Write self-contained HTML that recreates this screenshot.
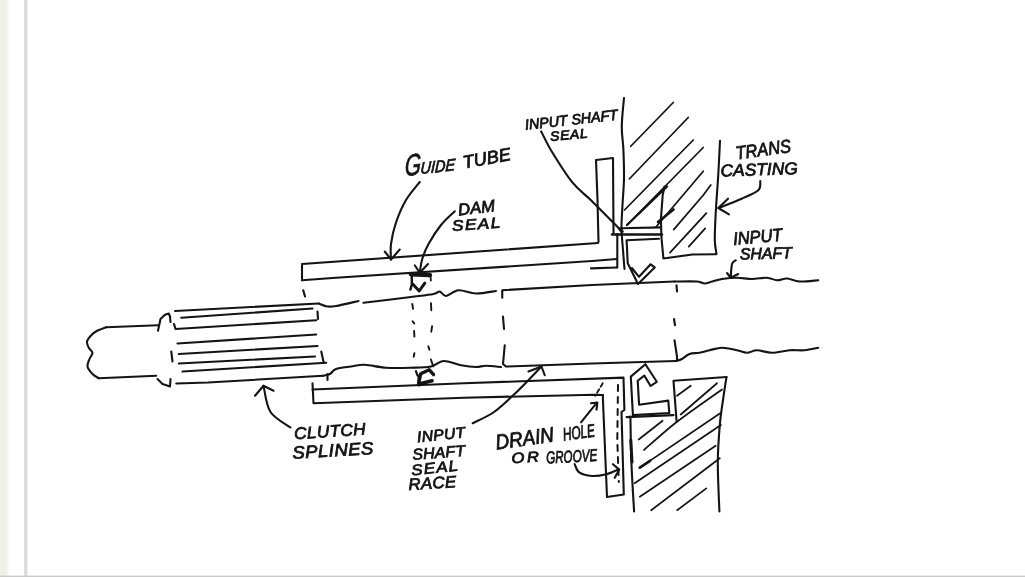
<!DOCTYPE html>
<html lang="en"><head><meta charset="utf-8"><title>Input shaft seal sketch</title>
<style>
html,body{margin:0;padding:0;background:#fff;}
body{width:1025px;height:577px;overflow:hidden;position:relative;}
svg{position:absolute;left:0;top:0;display:block;}
text{font-family:"Liberation Sans","DejaVu Sans",sans-serif;font-style:italic;fill:#111;stroke:#111;stroke-width:0.8px;}
.l{fill:none;stroke:#141414;stroke-linecap:round;stroke-linejoin:round;}
</style></head><body>
<svg width="1025" height="577" viewBox="0 0 1025 577">
<defs><linearGradient id="g" x1="0" x2="1" y1="0" y2="0"><stop offset="0" stop-color="#e9f0e5"/><stop offset="0.65" stop-color="#edf2ea"/><stop offset="1" stop-color="#fefefc"/></linearGradient></defs>
<rect x="0" y="0" width="1025" height="577" fill="#ffffff"/>
<rect x="0" y="0" width="9.5" height="577" fill="url(#g)"/>
<rect x="24" y="0" width="3.5" height="577" fill="#dcdcdc"/>
<rect x="0" y="575.6" width="1025" height="1.4" fill="#c9c9c9"/>
<g class="l">
<path d="M158,325.25 L106.25,327.25" stroke-width="2.1"/>
<path d="M106.25,327.25 C104.54,327.96 98.5,330.17 96,331.5 C93.5,332.83 92.75,333.58 91.25,335.25 C89.75,336.92 87.42,339.42 87,341.5 C86.58,343.58 87.83,345.88 88.75,347.75 C89.67,349.62 92.38,350.88 92.5,352.75 C92.62,354.62 90.33,356.71 89.5,359 C88.67,361.29 87,364 87.5,366.5 C88,369 90.62,372.04 92.5,374 C94.38,375.96 97.71,377.54 98.75,378.25" stroke-width="2.1"/>
<path d="M98.75,378.25 L156.25,375.75" stroke-width="2.1"/>
<path d="M158,330.75 L160.5,319 L165,314.75 L168.75,313.5 L170,316.5 L170.5,322" stroke-width="2.1"/>
<path d="M157.5,379 L162.5,384 L170,386.5 L170.5,379" stroke-width="2.1"/>
<path d="M171.25,351.5 L172.5,361.5" stroke-width="2.1"/>
<path d="M175,311 L318.75,303.5" stroke-width="2.1"/>
<path d="M181.25,317.75 L312.5,308.5" stroke-width="2.1"/>
<path d="M174,324 L175.5,329 L316.25,320.25" stroke-width="2.1"/>
<path d="M177.5,343.5 L316.25,334.5" stroke-width="2.1"/>
<path d="M178.75,354 L317.5,346" stroke-width="2.1"/>
<path d="M178.75,363.5 L315,356.5" stroke-width="2.1"/>
<path d="M182.5,371.5 L326.25,362.75" stroke-width="2.1"/>
<path d="M176.25,383.5 L208,382.5 L323,375.75" stroke-width="2.1"/>
<path d="M323,375.75 C324.17,375.46 327.83,375.12 330,374 C332.17,372.88 332.5,370.25 336,369 C339.5,367.75 346.21,367.21 351,366.5 C355.79,365.79 358.92,364.54 364.75,364.75 C370.58,364.96 378.29,367.25 386,367.75 C393.71,368.25 403.5,367.96 411,367.75 C418.5,367.54 425.58,367.62 431,366.5 C436.42,365.38 438.5,361.21 443.5,361 C448.5,360.79 455.58,364.25 461,365.25 C466.42,366.25 471.83,366.92 476,367 C480.17,367.08 481.83,365.75 486,365.75 C490.17,365.75 498.5,366.79 501,367" stroke-width="2.1"/>
<path d="M317.5,311.5 L318,319" stroke-width="2.1"/>
<path d="M321.25,351.5 L323.75,362.75" stroke-width="2.1"/>
<path d="M327.5,374 L327.5,380" stroke-width="2.1"/>
<path d="M318.75,303.5 C320.21,304 324.62,306.08 327.5,306.5 C330.38,306.92 330.83,306.92 336,306 C341.17,305.08 354.75,301.83 358.5,301" stroke-width="2.1"/>
<path d="M363.5,302.75 C371.42,301.79 399.33,298.46 411,297 C422.67,295.54 428.71,294.92 433.5,294 C438.29,293.08 437.67,291.17 439.75,291.5 C441.83,291.83 442.88,296.21 446,296 C449.12,295.79 453.5,290.67 458.5,290.25 C463.5,289.83 469.75,293.38 476,293.5 C482.25,293.62 492.67,291.42 496,291" stroke-width="2.1"/>
<path d="M302,280.25 L302,264 L598,243" stroke-width="2.1"/>
<path d="M302,280.25 L336,277.75 L592,261 L617,259" stroke-width="2.1"/>
<path d="M303.25,290.25 L305,296.5" stroke-width="2.1"/>
<path d="M598.5,242 L597.5,200 L596,160 L613,158 L613.5,234" stroke-width="2.1"/>
<path d="M617.3,234 L617.3,267.5" stroke-width="2.1"/>
<path d="M591,268.4 L617,267.5" stroke-width="2.1"/>
<path d="M410.8,274.3 L430,275.2" stroke-width="4.2"/>
<path d="M411.8,276.8 L411.8,284.6 L410.4,289.6" stroke-width="2.4"/>
<path d="M430.5,276 L430.9,280.7" stroke-width="1.8"/>
<path d="M412.7,284 L419.2,291 L424.8,283.2" stroke-width="3"/>
<path d="M412.3,304 L413,308.9" stroke-width="1.9"/>
<path d="M412.6,321.3 L414.2,323.4" stroke-width="1.9"/>
<path d="M414.1,331 L414.4,336.6" stroke-width="1.9"/>
<path d="M414.4,353.2 L413.7,356.7" stroke-width="1.9"/>
<path d="M431,303.3 L431.3,310.2" stroke-width="1.9"/>
<path d="M432.1,326.2 L431.3,331.7" stroke-width="1.9"/>
<path d="M428.3,346.3 L429.4,349.7" stroke-width="1.9"/>
<path d="M415.9,371.2 L417.6,375.7" stroke-width="2.2"/>
<path d="M418.6,383.5 L420.7,373.8 L429.3,369.8 L433.6,374.6" stroke-width="3.4"/>
<path d="M418.8,383.9 L432,380.8" stroke-width="3.6"/>
<path d="M419,376 L419,385" stroke-width="3"/>
<path d="M430.9,359.4 L433.2,366.4" stroke-width="1.8"/>
<path d="M502.25,290.25 L592,285 L674.5,281.5" stroke-width="2.1"/>
<path d="M674.5,281.5 C678.25,281.5 692,281.17 697,281.5 C702,281.83 702,283.5 704.5,283.5 C707,283.5 709.08,282.25 712,281.5 C714.92,280.75 717.83,279.62 722,279 C726.17,278.38 732,277.75 737,277.75 C742,277.75 747,279 752,279 C757,279 762.83,277.54 767,277.75 C771.17,277.96 773.67,280.12 777,280.25 C780.33,280.38 783.25,278.29 787,278.5 C790.75,278.71 794.29,281.21 799.5,281.5 C804.71,281.79 815.12,280.46 818.25,280.25" stroke-width="2.1"/>
<path d="M502.25,291.5 L502.25,297.75" stroke-width="2.1"/>
<path d="M503,316.5 L504,329" stroke-width="2.1"/>
<path d="M504.75,345.25 L503,364 L506,366.5 L592,363.5 L675.75,361" stroke-width="2.1"/>
<path d="M675.75,361 C676.79,360.67 679.71,360.17 682,359 C684.29,357.83 686.58,355.04 689.5,354 C692.42,352.96 696.17,353.38 699.5,352.75 C702.83,352.12 705.75,351.08 709.5,350.25 C713.25,349.42 717.42,347.75 722,347.75 C726.58,347.75 732.83,349.42 737,350.25 C741.17,351.08 743.67,352.75 747,352.75 C750.33,352.75 752.83,350.25 757,350.25 C761.17,350.25 766.58,352.75 772,352.75 C777.42,352.75 784.08,350.67 789.5,350.25 C794.92,349.83 799.71,350.67 804.5,350.25 C809.29,349.83 815.96,348.17 818.25,347.75" stroke-width="2.1"/>
<path d="M676.5,285.25 L677,291.5" stroke-width="2.1"/>
<path d="M674,319 L675,325.25" stroke-width="2.1"/>
<path d="M674.5,340.25 L677,356.5 L677,361" stroke-width="2.1"/>
<path d="M624,98 C623.63,102.67 621.9,117.33 621.8,126 C621.7,134.67 623.03,141.33 623.4,150 C623.77,158.67 624.15,168.83 624,178 C623.85,187.17 622.92,196.67 622.5,205 C622.08,213.33 621.42,220.5 621.5,228 C621.58,235.5 622.5,243.17 623,250 C623.5,256.83 624.25,265.83 624.5,269" stroke-width="2.1"/>
<path d="M621.5,228.3 L661,227.4" stroke-width="2.1"/>
<path d="M612,234.5 L662,234.5" stroke-width="2.4"/>
<path d="M659,238.7 L626.6,240.3 L627.7,263.2 L638,284 L654.7,267.4 L650.6,264.3 L639,276.8 L631.9,268" stroke-width="2.1"/>
<path d="M664.5,186.5 L662.7,195 L660.9,219.3 L661.5,238 L663.4,258.5 L692.5,254.5 L716.2,254.3" stroke-width="2.1"/>
<path d="M720,140.8 C719.71,146.5 718.96,163.05 718.25,175 C717.54,186.95 716.33,201.67 715.75,212.5 C715.17,223.33 714.67,233.08 714.8,240 C714.92,246.92 716.22,251.67 716.5,254" stroke-width="2.1"/>
<path d="M630.75,146.25 L673.25,102.5" stroke-width="1.75"/>
<path d="M629.5,178.75 L688.25,117.5" stroke-width="1.75"/>
<path d="M624.5,210 L693.25,140" stroke-width="1.75"/>
<path d="M627,225 L703.25,147.5" stroke-width="1.75"/>
<path d="M627,225 L667,186.5" stroke-width="2.4"/>
<path d="M656,227 L703.25,171.25" stroke-width="1.75"/>
<path d="M658,222 L673.5,209.5" stroke-width="2.6"/>
<path d="M673.7,229.6 L703.4,195 L710.75,185" stroke-width="1.75"/>
<path d="M670,252.7 L706.4,213.2" stroke-width="1.75"/>
<path d="M688.8,246.6 L705.2,228.4" stroke-width="1.75"/>
<path d="M541.2,131.4 C542.93,134.7 546.4,142.7 551.6,151.2 C556.8,159.7 565.67,174.06 572.4,182.4 C579.13,190.74 583.82,193.15 592,201.25 C600.18,209.35 616.58,226.04 621.5,231" stroke-width="2.1"/>
<path d="M620,229 L622,231.5" stroke-width="3.5"/>
<path d="M312.5,383.25 L313.5,403.25 L464,397.7 L594,394.8 L603,395" stroke-width="2.1"/>
<path d="M312.5,389.5 L464,383.25 L623.5,377.6 L624.4,410 L621.5,412 L623.8,494.5 L607,497 L602.75,395" stroke-width="2.1"/>
<path d="M602.75,383.25 L595.25,395.75" stroke-width="1.8" stroke-dasharray="4 3"/>
<path d="M618,385 L617.3,440 L618.8,482" stroke-width="2" stroke-dasharray="6 6"/>
<path d="M645.4,364.2 L630.8,376.6 L632.9,415.1 L669.3,413 L668.3,400.6 L639.1,404.7 L637.7,380.8 L644.3,375.6 L650.6,386 L656.8,381.8 L645.4,364.2" stroke-width="2.1"/>
<path d="M626.7,417.2 L673.5,415.1" stroke-width="2.2"/>
<path d="M630.4,416.6 C630.57,424.23 630.78,446.58 631.4,462.4 C632.02,478.22 633.65,503.32 634.1,511.5" stroke-width="2.1"/>
<path d="M630.8,440 L632,462" stroke-width="3"/>
<path d="M676.6,421.4 L673.5,380.8 L726.5,377" stroke-width="2.1"/>
<path d="M726.5,377 C725.92,380.83 724.12,392 723,400 C721.88,408 720.67,414.6 719.8,425 C718.93,435.4 717.87,447.98 717.8,462.4 C717.73,476.82 719.13,503.32 719.4,511.5" stroke-width="2.1"/>
<path d="M677,395.75 L690.75,385.75" stroke-width="1.75"/>
<path d="M680.75,414.5 L717,383.25" stroke-width="1.75"/>
<path d="M638.7,439.5 L662.6,420.8" stroke-width="1.75"/>
<path d="M644,450 C649.5,445.3 664,431.88 677,421.8 C690,411.72 714.5,394.88 722,389.5" stroke-width="1.75"/>
<path d="M639.8,467.6 L719.8,413.5" stroke-width="1.75"/>
<path d="M639.8,467.6 L650,460.8" stroke-width="2.8"/>
<path d="M634.6,483.2 L720.9,425" stroke-width="1.75"/>
<path d="M639.8,496.7 L715.7,445.8" stroke-width="1.75"/>
<path d="M651.2,510.2 L719.8,458.2" stroke-width="1.75"/>
<path d="M677.2,510.2 L706.3,488.4" stroke-width="1.75"/>
<path d="M419.75,182 C417.46,185 409.96,193.25 406,200 C402.04,206.75 398.5,215.17 396,222.5 C393.5,229.83 391.83,237.83 391,244 C390.17,250.17 391,256.92 391,259.5" stroke-width="2.1"/>
<path d="M384.75,251.5 L391,259.5 L399.75,249.5" stroke-width="2.1"/>
<path d="M454.75,211.25 C452.46,213.54 445.38,219.54 441,225 C436.62,230.46 431.62,238.33 428.5,244 C425.38,249.67 423.71,254.21 422.25,259 C420.79,263.79 420.17,270.46 419.75,272.75" stroke-width="2.1"/>
<path d="M414.75,265.25 L419.75,272.75 L428,264" stroke-width="2.1"/>
<path d="M760.3,181 C759.97,182.55 761.42,187.35 758.3,190.3 C755.18,193.25 748.2,195.75 741.6,198.7 C735,201.65 722.52,206.45 718.7,208" stroke-width="2.1"/>
<path d="M728,198.7 L718.3,208 L729,214.3" stroke-width="2.1"/>
<path d="M735.75,260.25 C735.12,260.88 732.83,261.08 732,264 C731.17,266.92 730.96,275.46 730.75,277.75" stroke-width="2.1"/>
<path d="M727,273 L730.75,277.75 L738.25,274" stroke-width="2.1"/>
<path d="M255,395.75 L263.5,385.75 L273.5,390.75" stroke-width="2.1"/>
<path d="M263.5,385.75 C264.67,390.12 266,405.04 270.5,412 C275,418.96 287.17,424.92 290.5,427.5" stroke-width="2.1"/>
<path d="M472.75,423.25 C476.29,421.38 487.12,416.79 494,412 C500.88,407.21 507.75,400.33 514,394.5 C520.25,388.67 527,381.58 531.5,377 C536,372.42 539.42,368.67 541,367" stroke-width="2.1"/>
<path d="M528.5,371.5 L541.5,366.5 L544.75,375.25" stroke-width="2.1"/>
<path d="M581,422.3 L596.5,403.2" stroke-width="2.1"/>
<path d="M591,403.2 L597.4,402.6 L596.5,409.6" stroke-width="2.1"/>
<path d="M574.7,464.2 C575.45,465.57 576.32,470.43 579.2,472.4 C582.08,474.37 587.45,475.7 592,476 C596.55,476.3 602.12,475.27 606.5,474.2 C610.88,473.13 616.33,470.37 618.3,469.6" stroke-width="2.1"/>
<path d="M612.9,464.2 L619.3,469.6 L614.7,477.8" stroke-width="2.1"/>
</g>
<g opacity="0.99">
<text x="0" y="0" font-size="18" textLength="48.1" lengthAdjust="spacing" transform="translate(464 168.5) rotate(-10.15) scale(1.003 1)">TUBE</text>
<text x="0" y="0" font-size="16.5" textLength="36.8" lengthAdjust="spacing" transform="translate(458.7 215.5) rotate(-6.97) scale(1.007 1)">DAM</text>
<text x="0" y="0" font-size="15" textLength="42.1" lengthAdjust="spacing" transform="translate(452.3 231) rotate(-3.91) scale(1.15 1)">SEAL</text>
<text x="0" y="0" font-size="14.5" textLength="93.2" lengthAdjust="spacingAndGlyphs" transform="translate(525.6 129.8) rotate(-6.35)">INPUT SHAFT</text>
<text x="0" y="0" font-size="13" textLength="34.9" lengthAdjust="spacing" transform="translate(550.6 141) rotate(-5.35) scale(1.076 1)">SEAL</text>
<text x="0" y="0" font-size="18.5" textLength="55.6" lengthAdjust="spacingAndGlyphs" transform="translate(736.4 159.5) rotate(-7.75)">TRANS</text>
<text x="0" y="0" font-size="17" textLength="76.2" lengthAdjust="spacing" transform="translate(720.8 176.5) rotate(-1.86) scale(1.012 1)">CASTING</text>
<text x="0" y="0" font-size="17.7" textLength="49.3" lengthAdjust="spacingAndGlyphs" transform="translate(733.7 245) rotate(-5.24)">INPUT</text>
<text x="0" y="0" font-size="16" textLength="52" lengthAdjust="spacingAndGlyphs" transform="translate(740 259.5) rotate(-1.43)">SHAFT</text>
<text x="0" y="0" font-size="16.5" textLength="68.7" lengthAdjust="spacing" transform="translate(294.6 439.3) rotate(-3.93) scale(1.04 1)">CLUTCH</text>
<text x="0" y="0" font-size="17.5" textLength="76.7" lengthAdjust="spacing" transform="translate(292.7 458.8) rotate(-3.46) scale(1.058 1)">SPLINES</text>
<text x="0" y="0" font-size="15" textLength="46.2" lengthAdjust="spacing" transform="translate(417.6 442.2) rotate(-5.85) scale(1.04 1)">INPUT</text>
<text x="0" y="0" font-size="15.4" textLength="51.4" lengthAdjust="spacing" transform="translate(412.7 459.8) rotate(-4.23) scale(1.028 1)">SHAFT</text>
<text x="0" y="0" font-size="15" textLength="41.6" lengthAdjust="spacing" transform="translate(411.7 475.4) rotate(-5.98) scale(1.131 1)">SEAL</text>
<text x="0" y="0" font-size="16.3" textLength="46.3" lengthAdjust="spacing" transform="translate(408.8 490) rotate(-3.59) scale(1.034 1)">RACE</text>
<text x="0" y="0" font-size="21" textLength="58.8" lengthAdjust="spacingAndGlyphs" transform="translate(496.4 449.6) rotate(-8.02)">DRAIN</text>
<text x="0" y="0" font-size="18" textLength="32.2" lengthAdjust="spacingAndGlyphs" transform="translate(563.7 440.8) rotate(-8.03)">HOLE</text>
<text x="0" y="0" font-size="14.5" textLength="23.9" lengthAdjust="spacing" transform="translate(511.8 463.3) rotate(-3.97) scale(1.15 1)">OR</text>
<text x="0" y="0" font-size="17" textLength="51.1" lengthAdjust="spacingAndGlyphs" transform="translate(546.4 463.6) rotate(-3.14)">GROOVE</text>
<text x="0" y="0" transform="translate(404.5 176) rotate(-6.2) skewX(-9)"><tspan font-size="30" textLength="16.2" lengthAdjust="spacingAndGlyphs">G</tspan><tspan x="15.8" y="-0.3" font-size="16.5" textLength="34.8" lengthAdjust="spacingAndGlyphs">UIDE</tspan></text>
</g>
</svg>
</body></html>
